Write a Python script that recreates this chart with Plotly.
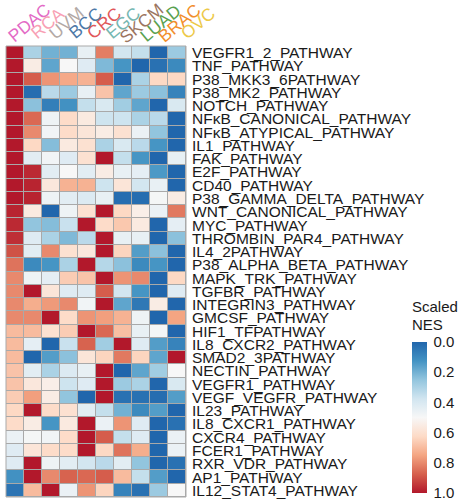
import numpy as np
import plotly.graph_objects as go

cancers = ["PDAC", "RCA", "UVM", "BCC", "CRC", "EGC", "SKCM", "LUAD", "BRAC", "OVC"]
cancer_colors = ["#E36BC6", "#F8A0B4", "#B3A9A5", "#4E79A7", "#E15759",
                 "#76B7B2", "#9C755F", "#59A14F", "#F28E2B", "#EDC948"]

pathways = [
    "VEGFR1_2_PATHWAY", "TNF_PATHWAY", "P38_MKK3_6PATHWAY", "P38_MK2_PATHWAY",
    "NOTCH_PATHWAY", "NFκB_CANONICAL_PATHWAY", "NFκB_ATYPICAL_PATHWAY", "IL1_PATHWAY",
    "FAK_PATHWAY", "E2F_PATHWAY", "CD40_PATHWAY", "P38_GAMMA_DELTA_PATHWAY",
    "WNT_CANONICAL_PATHWAY", "MYC_PATHWAY", "THROMBIN_PAR4_PATHWAY", "IL4_2PATHWAY",
    "P38_ALPHA_BETA_PATHWAY", "MAPK_TRK_PATHWAY", "TGFBR_PATHWAY", "INTEGRIN3_PATHWAY",
    "GMCSF_PATHWAY", "HIF1_TFPATHWAY", "IL8_CXCR2_PATHWAY", "SMAD2_3PATHWAY",
    "NECTIN_PATHWAY", "VEGFR1_PATHWAY", "VEGF_VEGFR_PATHWAY", "IL23_PATHWAY",
    "IL8_CXCR1_PATHWAY", "CXCR4_PATHWAY", "FCER1_PATHWAY", "RXR_VDR_PATHWAY",
    "AP1_PATHWAY", "IL12_STAT4_PATHWAY",
]

# Scaled NES per cancer type (one value per pathway, top to bottom)
pdac = [1.0, 1.0, 1.0, 1.0, 1.0, 1.0, 1.0, 1.0, 1.0, 1.0,
        1.0, 1.0, 0.98, 0.97, 0.96, 0.90, 0.84, 0.80, 0.80, 0.80,
        0.80, 0.70, 0.70, 0.70, 0.68, 0.68, 0.66, 0.63, 0.62, 0.46,
        0.42, 0.42, 0.12, 0.04]
rca = [0.30, 0.55, 0.88, 0.02, 0.24, 0.86, 0.80, 0.63, 0.43, 0.97,
       0.98, 0.98, 0.56, 0.25, 0.42, 0.43, 0.10, 0.47, 1.00, 0.73,
       0.80, 0.70, 0.44, 0.00, 0.43, 0.57, 0.76, 1.00, 0.55, 0.49,
       0.58, 1.00, 1.00, 0.70]
uvm = [0.20, 0.17, 0.78, 0.33, 0.07, 0.47, 0.48, 0.23, 0.48, 0.43,
       0.57, 0.47, 0.00, 0.23, 0.30, 0.80, 0.13, 0.44, 0.58, 0.77,
       1.00, 0.60, 0.00, 0.15, 0.30, 0.54, 0.55, 0.62, 0.13, 0.48,
       0.62, 0.47, 0.80, 1.00]
bcc = [0.20, 0.50, 0.74, 0.27, 0.12, 0.62, 0.62, 0.56, 0.42, 0.50,
       0.72, 0.43, 0.47, 0.36, 0.22, 0.60, 0.30, 0.66, 0.42, 0.80,
       0.62, 0.66, 0.36, 0.24, 0.41, 0.37, 0.25, 0.60, 0.56, 0.62,
       0.62, 0.43, 0.87, 0.46]
crc = [0.45, 0.42, 0.72, 0.45, 0.35, 0.56, 0.58, 0.60, 0.60, 0.43,
       0.72, 0.41, 0.60, 1.00, 0.33, 0.57, 1.00, 0.68, 0.42, 0.48,
       0.78, 1.00, 0.87, 0.58, 0.45, 0.42, 0.00, 0.43, 1.00, 1.00,
       1.00, 0.38, 0.86, 0.78]
egc = [0.82, 0.22, 0.88, 0.68, 0.40, 0.37, 0.55, 0.30, 1.00, 0.55,
       0.37, 0.45, 1.00, 0.62, 1.00, 1.00, 0.32, 1.00, 0.88, 1.00,
       0.76, 0.86, 0.28, 0.64, 1.00, 1.00, 1.00, 0.35, 0.46, 0.88,
       0.63, 0.33, 0.88, 0.64]
skcm = [0.38, 0.13, 0.00, 0.17, 0.28, 0.37, 0.60, 0.40, 0.35, 0.45,
        0.58, 0.02, 0.63, 0.67, 0.45, 0.64, 0.24, 0.78, 0.38, 0.17,
        0.72, 0.69, 1.00, 0.83, 0.00, 0.27, 0.03, 0.20, 0.78, 0.35,
        0.84, 0.43, 0.70, 0.08]
luad = [0.35, 0.00, 0.30, 0.27, 0.17, 0.30, 0.46, 0.33, 0.13, 0.44,
        0.38, 0.02, 0.54, 0.56, 0.45, 0.15, 0.10, 0.80, 0.13, 0.05,
        0.47, 0.45, 0.42, 0.64, 0.17, 0.30, 0.03, 0.10, 0.42, 0.42,
        0.73, 0.25, 0.35, 0.03]
brac = [0.00, 0.03, 0.63, 0.24, 0.00, 0.33, 0.25, 0.13, 0.00, 0.14,
        0.45, 0.49, 0.46, 0.00, 0.00, 0.24, 0.13, 0.00, 0.00, 0.55,
        0.00, 0.49, 0.15, 0.17, 0.28, 0.00, 0.02, 0.15, 0.00, 0.00,
        0.00, 0.00, 0.15, 0.27]
ovc = [0.27, 0.10, 0.63, 0.08, 0.40, 0.00, 0.00, 0.00, 0.45, 0.00,
       0.00, 0.55, 0.83, 0.44, 0.24, 0.00, 0.00, 0.63, 0.42, 0.00,
       0.75, 0.00, 0.08, 1.00, 0.50, 0.40, 0.15, 0.00, 0.03, 0.46,
       0.46, 0.03, 0.00, 0.50]

legend_ticks = [0.0, 0.2, 0.4, 0.6, 0.8, 1.0]

columns = [pdac, rca, uvm, bcc, crc, egc, skcm, luad, brac, ovc]
values = np.array(columns).T  # rows = pathways, cols = cancers

# Legend in the reference runs 0 (top, blue) -> 1 (bottom, red); plotly bars run
# low->high bottom->top, so plot the negated values and relabel the ticks.
rdbu9 = ["#B2182B", "#D6604D", "#F4A582", "#FDDBC7", "#F7F7F7",
         "#D1E5F0", "#92C5DE", "#4393C3", "#2166AC"]
colorscale = [[i / 8, c] for i, c in enumerate(rdbu9)]

FONT = "Liberation Sans, Arial, sans-serif"

W, H = 458, 504
L, R, T, B = 6, 272, 46, 7
PW, PH = W - L - R, H - T - B

fig = go.Figure(go.Heatmap(
    z=-values,
    x=list(range(len(cancers))),
    y=list(range(len(pathways))),
    zmin=-1, zmax=0,
    colorscale=colorscale,
    xgap=1, ygap=1,
    customdata=values,
    hovertemplate="%{customdata:.2f}<extra></extra>",
    colorbar=dict(
        xref="container", yref="paper",
        x=412 / W, xanchor="left",
        y=(H - B - 493) / PH, yanchor="bottom",
        len=151, lenmode="pixels",
        thickness=15, thicknessmode="pixels",
        outlinewidth=0,
        ticks="outside", ticklen=4, tickcolor="rgba(0,0,0,0)",
        tickvals=[-t for t in legend_ticks],
        ticktext=[f"{t:.1f}" for t in legend_ticks],
        tickfont=dict(family=FONT, size=15, color="#1a1a1a"),
        xpad=0, ypad=0,
    ),
))

fig.update_layout(
    width=W, height=H,
    margin=dict(l=L, r=R, t=T, b=B, pad=0, autoexpand=False),
    paper_bgcolor="white",
    plot_bgcolor="#a9a9a9",
    showlegend=False,
    font=dict(family=FONT, color="#1a1a1a"),
    xaxis=dict(showticklabels=False, ticks="", showgrid=False, zeroline=False,
               range=[-0.5, len(cancers) - 0.5], automargin=False),
    yaxis=dict(side="right", autorange="reversed", showgrid=False, zeroline=False,
               tickvals=list(range(len(pathways))), ticktext=pathways, ticks="",
               tickfont=dict(family=FONT, size=15.5, color="#1a1a1a"),
               ticklabelstandoff=5, automargin=False),
)

fig.add_shape(type="rect", xref="paper", yref="paper", x0=0, x1=1, y0=0, y1=1,
              line=dict(color="#a9a9a9", width=1))

for i, (name, col) in enumerate(zip(cancers, cancer_colors)):
    fig.add_annotation(
        x=i, xref="x", y=1, yref="paper",
        text=name, showarrow=False, textangle=-40,
        xanchor="center", yanchor="middle",
        xshift=14 + 0.8 * i, yshift=23,
        font=dict(family=FONT, size=17.5, color=col),
    )

for line_text, y_center in [("Scaled", 306), ("NES", 324)]:
    fig.add_annotation(
        xref="paper", yref="paper", x=(410 - L) / PW, y=1 - (y_center - T) / PH,
        text=line_text, showarrow=False, xanchor="left", yanchor="middle",
        font=dict(family=FONT, size=15, color="#1a1a1a"),
    )

fig.write_html(
    "out.html",
    config={"displayModeBar": False},
    post_script="document.body.style.margin='0';document.body.style.overflow='hidden';",
)
